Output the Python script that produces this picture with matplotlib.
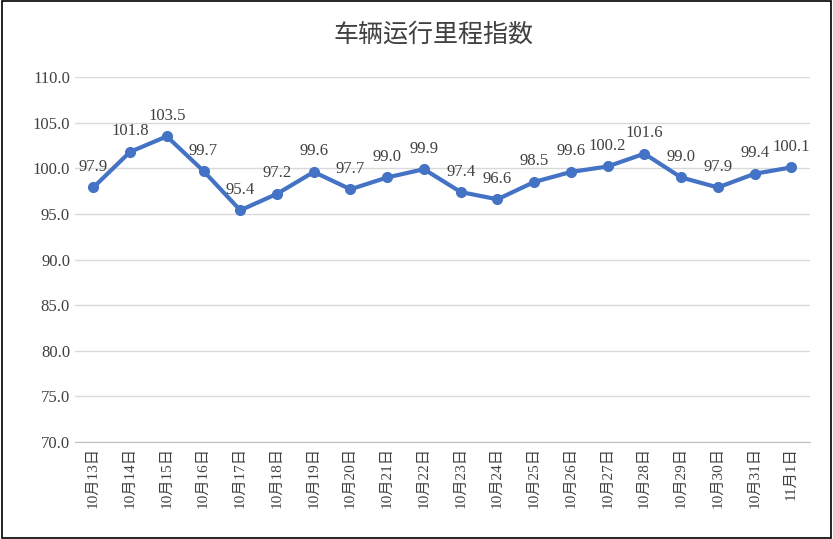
import matplotlib
matplotlib.use("Agg")
import matplotlib.pyplot as plt
from matplotlib.patches import Rectangle
from matplotlib import font_manager as fm

dates = ["10月13日","10月14日","10月15日","10月16日","10月17日","10月18日","10月19日","10月20日",
         "10月21日","10月22日","10月23日","10月24日","10月25日","10月26日","10月27日","10月28日",
         "10月29日","10月30日","10月31日","11月1日"]
values = [97.9,101.8,103.5,99.7,95.4,97.2,99.6,97.7,99.0,99.9,97.4,96.6,98.5,99.6,100.2,101.6,99.0,97.9,99.4,100.1]
yticks = [70,75,80,85,90,95,100,105,110]
title = "车辆运行里程指数"

cjk_names = sorted({f.name for f in fm.fontManager.ttflist if "CJK" in f.name})
cjk = next((n for n in cjk_names if "SC" in n), cjk_names[0] if cjk_names else "DejaVu Sans")

plt.rcParams["font.family"] = ["Liberation Serif", cjk]
fig = plt.figure(figsize=(8.33, 5.39), dpi=100)
fig.patches.append(Rectangle((0.002, 0.002), 0.996, 0.996, transform=fig.transFigure,
                             fill=False, edgecolor="black", linewidth=1.2))
ax = fig.add_axes([0.090, 0.180, 0.882, 0.677])
x = list(range(len(dates)))
ax.plot(x, values, color="#4472C4", linewidth=3, marker="o", markersize=7, zorder=3)
for xi, v in zip(x, values):
    ax.annotate(f"{v:.1f}", (xi, v), xytext=(0, 9), textcoords="offset points",
                ha="center", va="bottom", fontsize=12, color="#404040")
ax.set_ylim(70, 110)
ax.set_xlim(-0.5, len(dates) - 0.5)
ax.set_yticks(yticks)
ax.set_yticklabels([f"{t:.1f}" for t in yticks], fontsize=12, color="#404040")
ax.set_xticks(x)
ax.set_xticklabels(dates, rotation=90, fontsize=11, color="#404040")
ax.grid(axis="y", color="#D9D9D9", linewidth=1)
ax.set_axisbelow(True)
for s in ["left", "right", "top"]:
    ax.spines[s].set_visible(False)
ax.spines["bottom"].set_color("#BFBFBF")
ax.tick_params(axis="y", length=0)
ax.tick_params(axis="x", length=0)
fig.text(0.52, 0.935, title, ha="center", va="center", fontsize=18, color="#404040",
         fontfamily=cjk)
fig.savefig("out.png", dpi=100)
